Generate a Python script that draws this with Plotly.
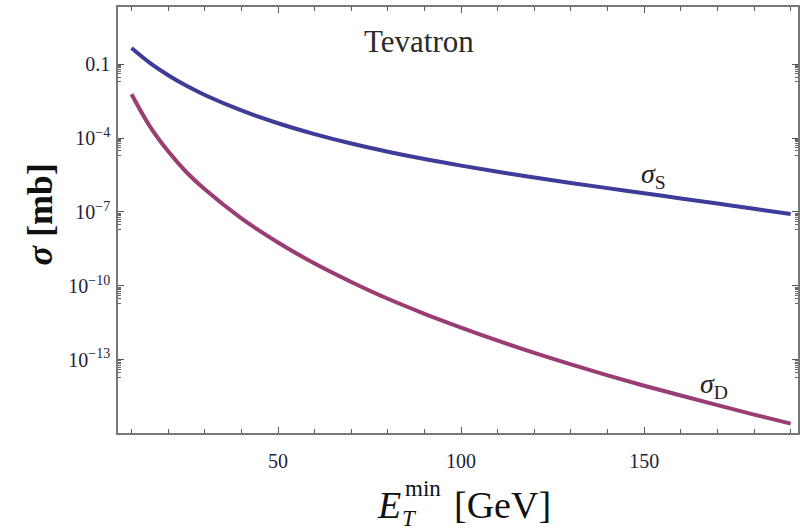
import plotly.graph_objects as go

# E_T^min [GeV]
et_min = [10, 15, 20, 25, 30, 40, 50, 60, 70, 80, 90, 100, 110, 120, 130, 140, 150, 160, 170, 180, 190]
# sigma_S [mb]
sigma_s = [0.45, 0.112, 0.0355, 0.0132, 5.6e-3, 1.32e-3, 4.0e-4, 1.45e-4, 6.0e-5, 2.8e-5, 1.41e-5,
           7.6e-6, 4.3e-6, 2.5e-6, 1.51e-6, 9.3e-7, 5.75e-7, 3.55e-7, 2.19e-7, 1.35e-7, 8.3e-8]
# sigma_D [mb]
sigma_d = [6.0e-3, 3.0e-4, 2.9e-5, 4.1e-6, 8.3e-7, 5.5e-8, 5.8e-9, 8.1e-10, 1.45e-10, 3.0e-11, 7.4e-12,
           2.04e-12, 6.0e-13, 1.9e-13, 6.5e-14, 2.35e-14, 8.9e-15, 3.55e-15, 1.45e-15, 6.0e-16, 2.57e-16]

y_tickvals = [1e-1, 1e-4, 1e-7, 1e-10, 1e-13]
y_ticktext = ["0.1", "10<sup>\u22124</sup>", "10<sup>\u22127</sup>", "10<sup>\u221210</sup>", "10<sup>\u221213</sup>"]
x_tickvals = [50, 100, 150]
x_ticktext = ["50", "100", "150"]
x_minor = [10, 20, 30, 40, 60, 70, 80, 90, 110, 120, 130, 140, 160, 170, 180, 190]
y_minor = [k * v / 10 for v in y_tickvals for k in range(2, 10)]

FONT = "Liberation Serif"
BLUE = "#3d3d99"
MAG = "#993d73"

fig = go.Figure()
fig.add_trace(go.Scatter(x=et_min, y=sigma_s, mode="lines", line=dict(color=BLUE, width=4, shape="spline"),
                         showlegend=False))
fig.add_trace(go.Scatter(x=et_min, y=sigma_d, mode="lines", line=dict(color=MAG, width=4, shape="spline"),
                         showlegend=False))

axis_common = dict(showgrid=False, zeroline=False, showline=True, linecolor="#777", linewidth=1.5,
                   mirror="allticks", ticks="inside", tickcolor="#555", tickwidth=1.2, ticklen=6,
                   tickfont=dict(family=FONT, size=20, color="#1e1e3a"))

fig.update_xaxes(range=[6.3, 192], tickmode="array", tickvals=x_tickvals, ticktext=x_ticktext,
                 ticklabelstandoff=9,
                 minor=dict(tickmode="array", tickvals=x_minor, ticks="inside", ticklen=4, tickcolor="#555"),
                 **axis_common)
fig.update_yaxes(type="log", range=[-15.97, 1.32], tickmode="array", tickvals=y_tickvals, ticktext=y_ticktext,
                 ticklabelstandoff=2,
                 minor=dict(tickmode="array", tickvals=y_minor, ticks="inside", ticklen=3, tickcolor="#666"),
                 **axis_common)


def paper_ann(text, x, y, size, color="#111", **kw):
    fig.add_annotation(text=text, xref="paper", yref="paper", x=x, y=y, xanchor="center", yanchor="middle",
                       showarrow=False, font=dict(family=FONT, size=size, color=color), **kw)


paper_ann("Tevatron", 0.443, 0.918, 31, color="#2a2a2a")
fig.add_annotation(text="<i>\u03c3</i><sub>S</sub>", x=152.6, y=-5.51, showarrow=False,
                   font=dict(family=FONT, size=28, color="#222"))
fig.add_annotation(text="<i>\u03c3</i><sub>D</sub>", x=169, y=-14.05, showarrow=False,
                   font=dict(family=FONT, size=28, color="#222"))
paper_ann("<b><i>\u03c3</i> [mb]</b>", -0.114, 0.514, 36, textangle=-90)
# x-axis title: E_T^min [GeV]
paper_ann("<i>E</i>", (390 - 118) / 682, (433 - 505) / 426, 38)
paper_ann("min", (424 - 118) / 682, (433 - 488) / 426, 23)
paper_ann("<i>T</i>", (410 - 118) / 682, (433 - 518) / 426, 23)
paper_ann("[GeV]", (504 - 118) / 682, (433 - 505) / 426, 38)

fig.update_layout(width=800, height=530, margin=dict(l=118, r=0, t=7, b=97),
                  plot_bgcolor="white", paper_bgcolor="white")

fig.write_html("out.html")
